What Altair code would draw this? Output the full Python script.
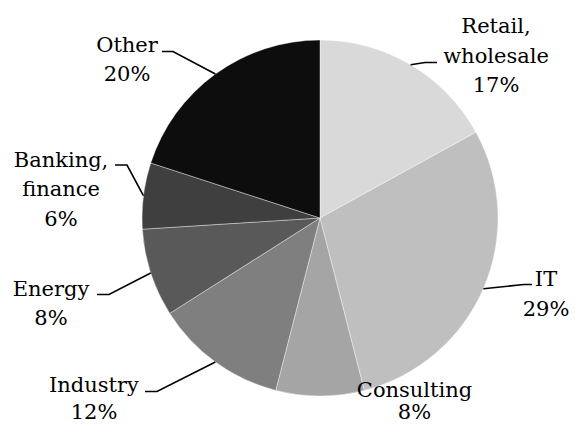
import math
import altair as alt
import pandas as pd

# ---- data ----
categories = ["Retail, wholesale", "IT", "Consulting", "Industry", "Energy",
              "Banking, finance", "Other"]
shares = [17, 29, 8, 12, 8, 6, 20]
name_lines = [["Retail,", "wholesale"], ["IT"], ["Consulting"], ["Industry"],
              ["Energy"], ["Banking,", "finance"], ["Other"]]
colors = ["#d9d9d9", "#bfbfbf", "#a5a5a5", "#7f7f7f", "#595959", "#3f3f3f", "#0d0d0d"]

# ---- layout (page pixel coordinates) ----
OFFSET = 8
W, H = 561, 416
CX, CY, R = 320, 218, 178
LINE_H = 29.5
FONT = "DejaVu Serif"
FONT_SIZE = 21
label_anchor = {  # (centre x, first baseline y)
    "Retail, wholesale": (496, 33.3),
    "IT": (546, 286),
    "Consulting": (414.5, 397),
    "Industry": (94, 392),
    "Energy": (51, 295.5),
    "Banking, finance": (61, 166.7),
    "Other": (127, 51.7),
}
leader_pts = {  # elbow, end
    "Retail, wholesale": [(425, 62.5), (437, 62.5)],
    "IT": [(524, 284.5), (532, 284.5)],
    "Industry": [(157, 391.5), (145, 391.5)],
    "Energy": [(109, 294.5), (97, 294.5)],
    "Banking, finance": [(127, 165), (115, 165)],
    "Other": [(173, 51.5), (162, 51.5)],
}

total = sum(shares)
pie_df = pd.DataFrame({"category": categories, "share": shares,
                       "idx": list(range(len(categories)))})

# leader lines start at the slice's mid-angle on the rim
rows = []
cum = 0
for cat, v in zip(categories, shares):
    mid = (cum + v / 2) / total * 2 * math.pi
    cum += v
    if cat in leader_pts:
        pts = [(CX + R * math.sin(mid), CY - R * math.cos(mid))] + leader_pts[cat]
        for i, (px, py) in enumerate(pts):
            rows.append({"category": cat, "step": i, "x": px - OFFSET, "y": py - OFFSET})
line_df = pd.DataFrame(rows)

trows = []
for cat, v, names in zip(categories, shares, name_lines):
    ax, ay = label_anchor[cat]
    for i, t in enumerate(names + [f"{v}%"]):
        y = min(ay + i * LINE_H - OFFSET, H - 5)  # keep inside the drawing
        trows.append({"x": ax - OFFSET, "y": y, "text": t})
text_df = pd.DataFrame(trows)

pie = alt.Chart(pie_df).mark_arc(radius=R, stroke="white", strokeWidth=0.4).encode(
    theta=alt.Theta("share:Q", stack=True),
    order=alt.Order("idx:Q"),
    color=alt.Color("category:N", scale=alt.Scale(domain=categories, range=colors), legend=None),
    x=alt.value(CX - OFFSET),
    y=alt.value(CY - OFFSET),
)

lines = alt.Chart(line_df).mark_line(color="black", strokeWidth=1.6).encode(
    x=alt.X("x:Q", scale=None, axis=None),
    y=alt.Y("y:Q", scale=None, axis=None),
    detail="category:N",
    order="step:Q",
)

texts = alt.Chart(text_df).mark_text(
    font=FONT, fontSize=FONT_SIZE, align="center", baseline="alphabetic", color="black"
).encode(
    x=alt.X("x:Q", scale=None, axis=None),
    y=alt.Y("y:Q", scale=None, axis=None),
    text="text:N",
)

chart = alt.layer(pie, lines, texts).properties(
    width=W, height=H, padding=0, autosize=alt.AutoSizeParams(type="none")
).configure_view(stroke=None)

chart.save("out.html", embed_options={"renderer": "svg", "actions": False})
